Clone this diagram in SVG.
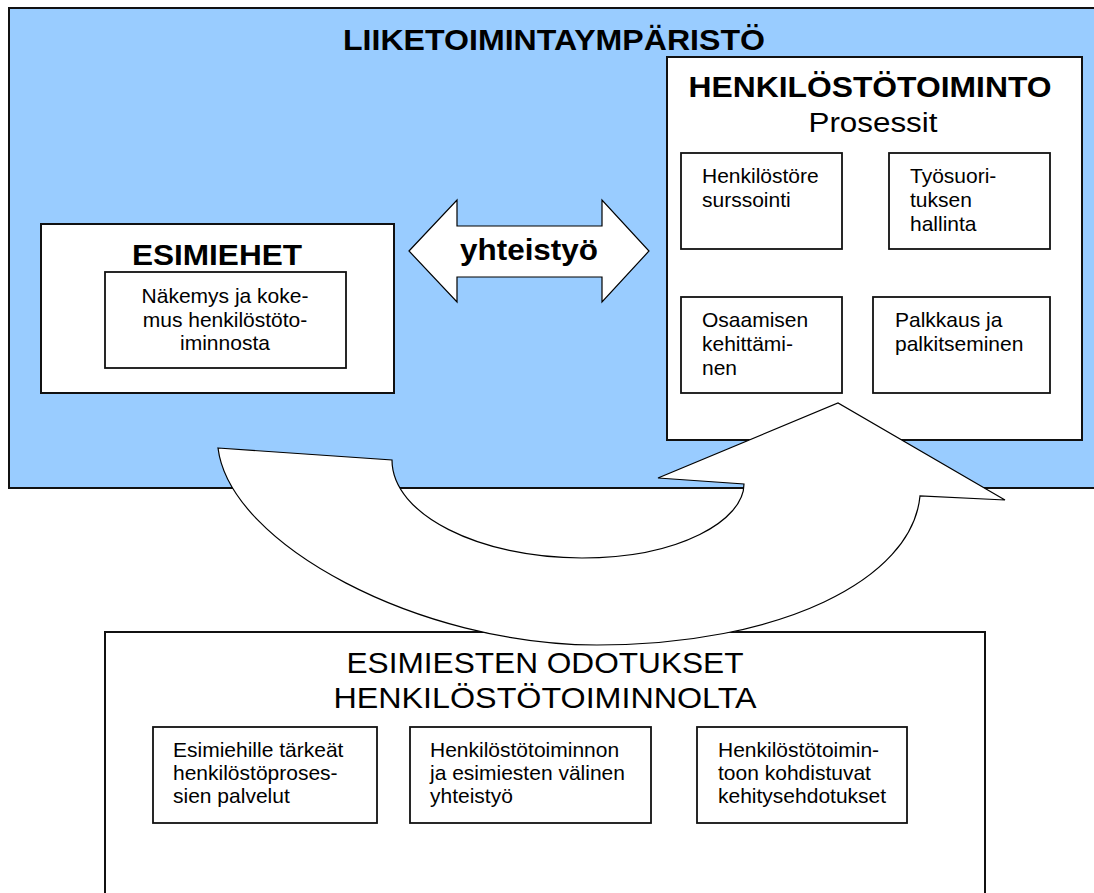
<svg xmlns="http://www.w3.org/2000/svg" width="1094" height="893" viewBox="0 0 1094 893">
<style>
text{font-family:"Liberation Sans",Arial,sans-serif;fill:#000}
.b{font-weight:bold}
.box{fill:#fff;stroke:#111;stroke-width:2}
.sub{fill:#fff;stroke:#111;stroke-width:1.8}
.t21{font-size:21px}
.shape{fill:#fff;stroke:#000;stroke-width:1.2;stroke-linejoin:miter}
</style>
<rect width="1094" height="893" fill="#fff"/>
<g id="liiketoimintaymparisto">
<rect x="9" y="8" width="1100" height="480" fill="#99ccff" stroke="#111" stroke-width="2"/>
<text class="b" x="554" y="50" font-size="30" text-anchor="middle" textLength="422" lengthAdjust="spacingAndGlyphs">LIIKETOIMINTAYMPÄRISTÖ</text>
</g>
<g id="odotukset">
<rect class="box" x="105" y="632" width="880" height="280"/>
<text x="545" y="673" font-size="30" text-anchor="middle" textLength="397" lengthAdjust="spacingAndGlyphs">ESIMIESTEN ODOTUKSET</text>
<text x="545" y="708" font-size="30" text-anchor="middle" textLength="423" lengthAdjust="spacingAndGlyphs">HENKILÖSTÖTOIMINNOLTA</text>
</g>
<g id="odotus-1">
<rect class="sub" x="153" y="727" width="224" height="96"/>
<text class="t21" x="173" y="757">Esimiehille tärkeät</text>
<text class="t21" x="173" y="780">henkilöstöproses-</text>
<text class="t21" x="173" y="803">sien palvelut</text>
</g>
<g id="odotus-2">
<rect class="sub" x="410" y="727" width="241" height="96"/>
<text class="t21" x="430" y="757">Henkilöstötoiminnon</text>
<text class="t21" x="430" y="780">ja esimiesten välinen</text>
<text class="t21" x="430" y="803">yhteistyö</text>
</g>
<g id="odotus-3">
<rect class="sub" x="697" y="727" width="210" height="96"/>
<text class="t21" x="718" y="757">Henkilöstötoimin-</text>
<text class="t21" x="718" y="780">toon kohdistuvat</text>
<text class="t21" x="718" y="803">kehitysehdotukset</text>
</g>
<g id="esimiehet">
<rect class="box" x="41" y="224" width="353" height="169"/>
<text class="b" x="217" y="265" font-size="30" text-anchor="middle" textLength="170" lengthAdjust="spacingAndGlyphs">ESIMIEHET</text>
<rect class="sub" x="105" y="272" width="241" height="96"/>
<text class="t21" x="225" y="303" text-anchor="middle">Näkemys ja koke-</text>
<text class="t21" x="225" y="327" text-anchor="middle">mus henkilöstöto-</text>
<text class="t21" x="225" y="350" text-anchor="middle">iminnosta</text>
</g>
<g id="henkilostotoiminto">
<rect class="box" x="667" y="57" width="415" height="383"/>
<text class="b" x="870" y="97" font-size="30" text-anchor="middle" textLength="363" lengthAdjust="spacingAndGlyphs">HENKILÖSTÖTOIMINTO</text>
<text x="873" y="132" font-size="27" text-anchor="middle" textLength="129" lengthAdjust="spacingAndGlyphs">Prosessit</text>
</g>
<g id="resursointi">
<rect class="sub" x="681" y="153" width="161" height="96"/>
<text class="t21" x="702" y="183">Henkilöstöre</text>
<text class="t21" x="702" y="207">surssointi</text>
</g>
<g id="tyosuoritus">
<rect class="sub" x="889" y="153" width="161" height="96"/>
<text class="t21" x="910" y="183">Työsuori-</text>
<text class="t21" x="910" y="207">tuksen</text>
<text class="t21" x="910" y="231">hallinta</text>
</g>
<g id="osaaminen">
<rect class="sub" x="681" y="297" width="161" height="96"/>
<text class="t21" x="702" y="327">Osaamisen</text>
<text class="t21" x="702" y="351">kehittämi-</text>
<text class="t21" x="702" y="375">nen</text>
</g>
<g id="palkkaus">
<rect class="sub" x="873" y="297" width="177" height="96"/>
<text class="t21" x="895" y="327">Palkkaus ja</text>
<text class="t21" x="895" y="351">palkitseminen</text>
</g>
<g id="connectors">
<g id="yhteistyo">
<polygon class="shape" stroke-width="1.6" points="409,251 457,200 457,226 602,226 602,200 649,251 602,302 602,277 457,277 457,302"/>
<text class="b" x="529" y="260" font-size="30" text-anchor="middle" textLength="138" lengthAdjust="spacingAndGlyphs">yhteistyö</text>
</g>
<path id="kaari" class="shape" d="M218,448 L392,460 C392,515 480,558 582,558 C680,558 744,520 744,484 L658,478 L838,403 L1005,500 L920,496 C912,580 780,645 597,645 C420,645 230,545 218,448 Z"/>
</g>
</svg>
